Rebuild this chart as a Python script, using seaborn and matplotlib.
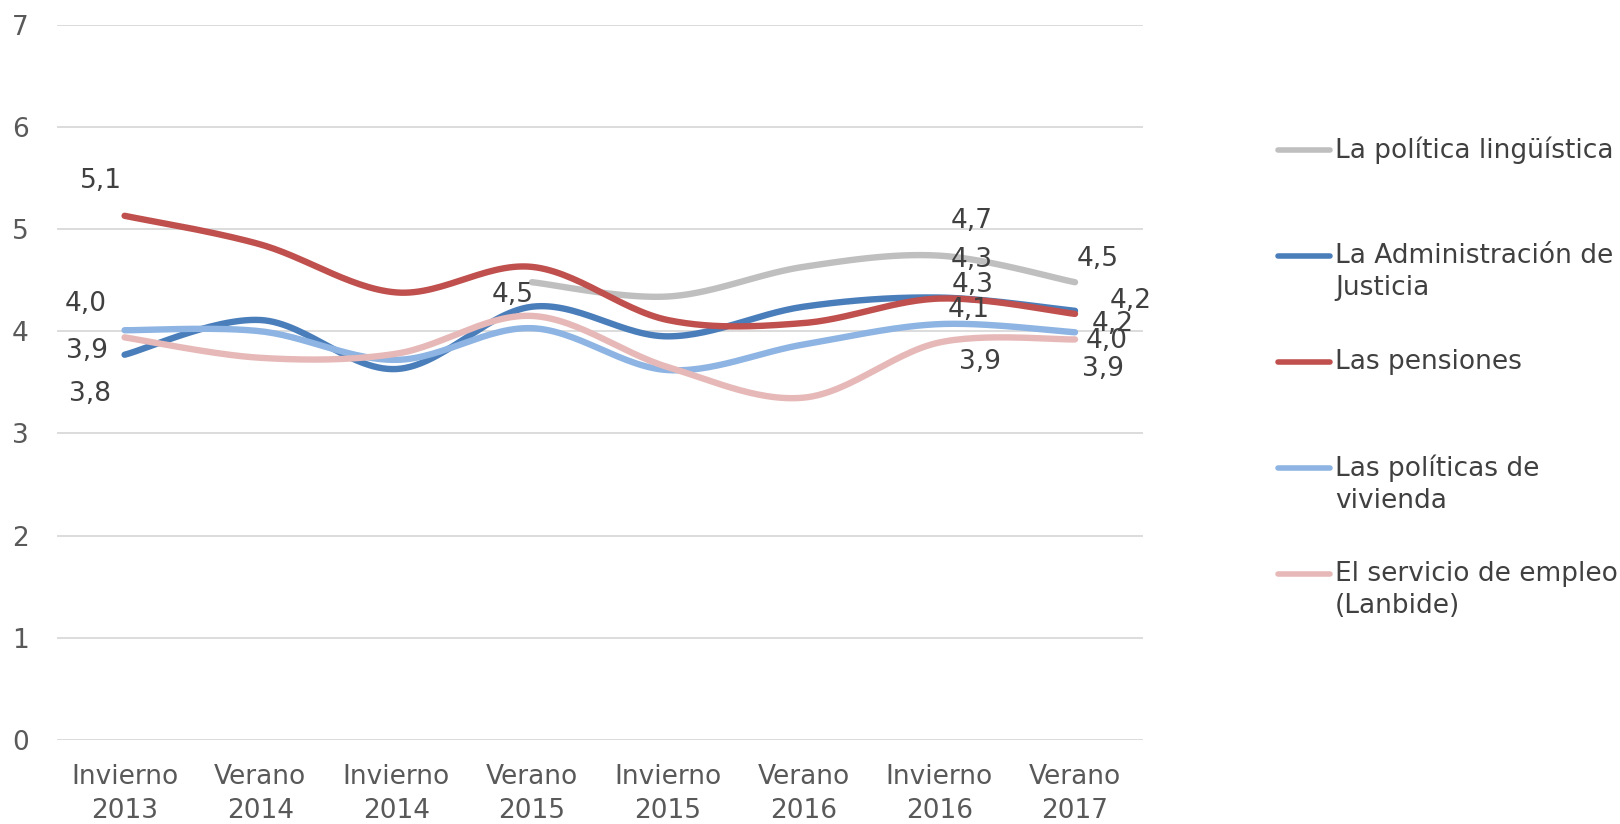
import matplotlib
matplotlib.use("Agg")
import matplotlib.pyplot as plt
from matplotlib.lines import Line2D
import seaborn as sns
import numpy as np
import pandas as pd

periodos = ["Invierno\n2013", "Verano\n2014", "Invierno\n2014", "Verano\n2015",
            "Invierno\n2015", "Verano\n2016", "Invierno\n2016", "Verano\n2017"]

series = ["La política lingüística", "La Administración de\nJusticia", "Las pensiones",
          "Las políticas de\nvivienda", "El servicio de empleo\n(Lanbide)"]

linguistica = [np.nan, np.nan, np.nan, 4.48, 4.34, 4.63, 4.74, 4.48]
justicia = [3.77, 4.11, 3.63, 4.24, 3.95, 4.24, 4.33, 4.20]
pensiones = [5.13, 4.85, 4.38, 4.63, 4.11, 4.08, 4.32, 4.17]
vivienda = [4.01, 4.00, 3.72, 4.03, 3.62, 3.87, 4.07, 3.99]
lanbide = [3.94, 3.74, 3.78, 4.15, 3.65, 3.35, 3.89, 3.92]

valores = [linguistica, justicia, pensiones, vivienda, lanbide]
colores = ["#BFBFBF", "#4A7EBB", "#C0504D", "#8DB4E2", "#E6B9B8"]

# data labels: (serie index, periodo index, offset in points)
etiquetas = [
    (2, 0, (-17, 25)), (3, 0, (-28, 19)), (4, 0, (-27, -10)), (1, 0, (-25, -28)),
    (0, 3, (-14, -9)),
    (0, 6, (23, 25)), (1, 6, (23, 27)), (2, 6, (24, 10)), (3, 6, (21, 10)), (4, 6, (29, -14)),
    (0, 7, (16, 17)), (1, 7, (40, 7)), (2, 7, (27, -7)), (3, 7, (23, -6)), (4, 7, (20, -21)),
]

FS = 19


def suavizar(x, y, n=30):
    # Bezier smoothing like the spreadsheet "smoothed line"
    px, py = [], []
    for i in range(len(x) - 1):
        x0, y0 = x[max(i - 1, 0)], y[max(i - 1, 0)]
        x1, y1 = x[i], y[i]
        x2, y2 = x[i + 1], y[i + 1]
        x3, y3 = x[min(i + 2, len(x) - 1)], y[min(i + 2, len(x) - 1)]
        c1x, c1y = x1 + (x2 - x0) / 6, y1 + (y2 - y0) / 6
        c2x, c2y = x2 - (x3 - x1) / 6, y2 - (y3 - y1) / 6
        t = np.linspace(0, 1, n, endpoint=(i == len(x) - 2))
        px.extend((1 - t) ** 3 * x1 + 3 * (1 - t) ** 2 * t * c1x + 3 * (1 - t) * t ** 2 * c2x + t ** 3 * x2)
        py.extend((1 - t) ** 3 * y1 + 3 * (1 - t) ** 2 * t * c1y + 3 * (1 - t) * t ** 2 * c2y + t ** 3 * y2)
    return px, py


filas = []
for nombre, vals in zip(series, valores):
    v = np.array(vals, dtype=float)
    idx = np.where(~np.isnan(v))[0]
    sx, sy = suavizar(idx.astype(float), v[idx])
    filas.append(pd.DataFrame({"x": sx, "valor": sy, "serie": nombre}))
df = pd.concat(filas, ignore_index=True)

sns.set_style("white")
plt.rcParams["font.family"] = ["DejaVu Sans"]
texto = "#404040"

fig = plt.figure(figsize=(16.2, 8.24), dpi=100)
ax = fig.add_axes([0.035, 0.102, 0.6705, 0.868])

sns.lineplot(data=df, x="x", y="valor", hue="serie", hue_order=series,
             palette=colores, linewidth=4.6, sort=False, estimator=None,
             legend=False, ax=ax, solid_capstyle="round")

for si, pi, off in etiquetas:
    v = valores[si][pi]
    ax.annotate(f"{v:.1f}".replace(".", ","), xy=(pi, v), xytext=off,
                textcoords="offset points", ha="center", va="center",
                fontsize=FS, color=texto)

ax.set_xlim(-0.5, 7.5)
ax.set_ylim(0, 7)
ax.set_yticks(range(0, 8))
ax.set_xticks(range(len(periodos)))
ax.set_xticklabels(periodos, linespacing=1.4)
ax.tick_params(axis="both", length=0, labelsize=FS, labelcolor="#595959")
ax.tick_params(axis="x", pad=17)
ax.tick_params(axis="y", pad=20)
ax.grid(axis="y", color="#D9D9D9", linewidth=1.3)
ax.set_axisbelow(True)
ax.set_xlabel("")
ax.set_ylabel("")
for s in ax.spines.values():
    s.set_visible(False)

# legend drawn at the right, handle aligned with first text line
y0 = 0.818
paso = 0.1287
for i, (nombre, c) in enumerate(zip(series, colores)):
    y = y0 - i * paso
    fig.add_artist(Line2D([0.789, 0.821], [y, y], color=c, linewidth=4,
                          solid_capstyle="round", transform=fig.transFigure))
    fig.text(0.824, y + 0.016, nombre, ha="left", va="top", fontsize=FS,
             color=texto, linespacing=1.3)

fig.savefig("out.png", dpi=100)
